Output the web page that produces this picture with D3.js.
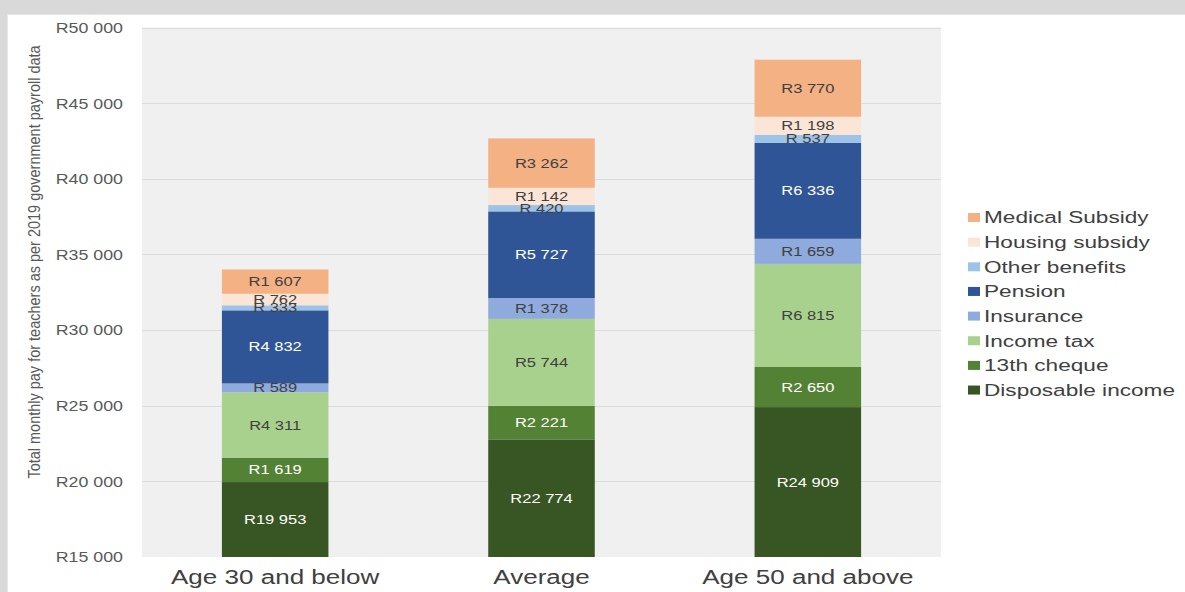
<!DOCTYPE html>
<html>
<head>
<meta charset="utf-8">
<script src="https://cdn.jsdelivr.net/npm/d3@7"></script>
<style>
  html, body { margin: 0; padding: 0; background: #d9d9d9; }
  svg { display: block; font-family: "Liberation Sans", Arial, Helvetica, sans-serif; }
</style>
</head>
<body>
<svg id="chart" width="1185" height="592"></svg>
<script>
// ---- Data ----
const categories = ["Age 30 and below", "Average", "Age 50 and above"];
const seriesNames = ["Disposable income", "13th cheque", "Income tax", "Insurance", "Pension", "Other benefits", "Housing subsidy", "Medical Subsidy"];
const disposableIncome = [19953, 22774, 24909];
const thirteenthCheque = [1619, 2221, 2650];
const incomeTax = [4311, 5744, 6815];
const insurance = [589, 1378, 1659];
const pension = [4832, 5727, 6336];
const otherBenefits = [333, 420, 537];
const housingSubsidy = [762, 1142, 1198];
const medicalSubsidy = [1607, 3262, 3770];
const yTickValues = [15000, 20000, 25000, 30000, 35000, 40000, 45000, 50000];
const yTitle = "Total monthly pay for teachers as per 2019 government payroll data";

const seriesValues = [disposableIncome, thirteenthCheque, incomeTax, insurance, pension, otherBenefits, housingSubsidy, medicalSubsidy];
const colors = ["#375623", "#548235", "#a9d18e", "#8faadc", "#2f5597", "#9dc3e6", "#fbe5d6", "#f4b183"];
const labelColors = ["#ffffff", "#ffffff", "#404040", "#404040", "#ffffff", "#404040", "#404040", "#404040"];

const rows = categories.map((c, i) => {
  const r = { category: c };
  seriesNames.forEach((s, j) => r[s] = seriesValues[j][i]);
  return r;
});

const svg = d3.select("#chart");
// white card
svg.append("rect").attr("x", 7).attr("y", 14).attr("width", 1185).attr("height", 600).attr("fill", "#ffffff");
svg.append("line").attr("x1", 7).attr("x2", 1185).attr("y1", 14.5).attr("y2", 14.5).attr("stroke", "#e6e6e6");
svg.append("line").attr("x1", 7.5).attr("x2", 7.5).attr("y1", 14).attr("y2", 592).attr("stroke", "#e6e6e6");

const plot = { left: 142, right: 941, top: 27.5, bottom: 557 };
const SX = 1.27; // horizontal text stretch seen in reference

const x = d3.scaleBand().domain(categories).range([plot.left, plot.right]).paddingInner(0.6).paddingOuter(0.3);
const y = d3.scaleLinear().domain([15000, 50000]).range([plot.bottom, plot.top]);

svg.append("rect").attr("x", plot.left).attr("y", plot.top).attr("width", plot.right - plot.left)
  .attr("height", plot.bottom - plot.top).attr("fill", "#f0f0f0");

// gridlines
svg.append("g").selectAll("line").data(yTickValues.filter(d => d > 15000)).join("line")
  .attr("x1", plot.left).attr("x2", plot.right)
  .attr("y1", d => Math.round(y(d)) + 0.5).attr("y2", d => Math.round(y(d)) + 0.5)
  .attr("stroke", "#dcdcdc").attr("stroke-width", 1);

// y axis
const fmt = v => "R" + d3.format(",")(v).replace(/,/g, " ");
const yAxis = svg.append("g").attr("transform", `translate(${plot.left},0)`)
  .call(d3.axisLeft(y).tickValues(yTickValues).tickFormat(fmt).tickSize(0));
yAxis.select(".domain").remove();
yAxis.selectAll("text")
  .attr("x", -19 / SX).attr("dy", "0.35em")
  .attr("transform", `scale(${SX},1)`)
  .attr("font-size", 14).attr("fill", "#595959")
  .attr("font-family", "'Liberation Sans', Arial, sans-serif");

// y title
svg.append("text")
  .attr("transform", `translate(40,262) scale(1.2,1) rotate(-90)`)
  .attr("text-anchor", "middle")
  .attr("font-size", 14.5).attr("fill", "#595959")
  .text(yTitle);

// bars
svg.append("defs").append("clipPath").attr("id", "plotclip")
  .append("rect").attr("x", plot.left).attr("y", plot.top).attr("width", plot.right - plot.left).attr("height", plot.bottom - plot.top);

const stack = d3.stack().keys(seriesNames);
const stacked = stack(rows);

const layers = svg.append("g").attr("clip-path", "url(#plotclip)")
  .selectAll("g").data(stacked).join("g").attr("fill", (d, i) => colors[i]);
layers.selectAll("rect").data(d => d).join("rect")
  .attr("x", d => x(d.data.category))
  .attr("width", x.bandwidth())
  .attr("y", d => y(d[1]))
  .attr("height", d => Math.max(0, y(Math.max(d[0], 15000)) - y(d[1])));

// segment labels
const segFmt = v => v >= 1000 ? fmt(v) : "R " + v;
const labelG = svg.append("g");
stacked.forEach((layer, i) => {
  layer.forEach(d => {
    const lo = Math.max(d[0], 15000);
    const cy = (y(lo) + y(d[1])) / 2;
    const cx = x(d.data.category) + x.bandwidth() / 2;
    labelG.append("text")
      .attr("transform", `translate(${cx},${cy}) scale(${SX},1)`)
      .attr("text-anchor", "middle").attr("dy", "0.35em")
      .attr("font-size", 13).attr("fill", labelColors[i])
      .text(segFmt(d[1] - d[0]));
  });
});

// x axis
const xAxis = svg.append("g").attr("transform", `translate(0,${plot.bottom})`)
  .call(d3.axisBottom(x).tickSize(0));
xAxis.select(".domain").remove();
xAxis.selectAll("text")
  .attr("y", 27).attr("dy", 0)
  .attr("transform", `scale(1.24,1)`)
  .attr("font-size", 21).attr("fill", "#404040")
  .attr("font-family", "'Liberation Sans', Arial, sans-serif");
xAxis.selectAll(".tick").each(function(d) {
  const cx = x(d) + x.bandwidth() / 2;
  d3.select(this).attr("transform", `translate(${cx},0)`);
});

// legend
const legendOrder = seriesNames.slice().reverse();
const lg = svg.append("g");
legendOrder.forEach((name, i) => {
  const idx = seriesNames.indexOf(name);
  const cy = 217.5 + i * 24.65;
  lg.append("rect").attr("x", 968).attr("y", cy - 4.5).attr("width", 12).attr("height", 9).attr("fill", colors[idx]);
  lg.append("text")
    .attr("transform", `translate(984,${cy}) scale(1.33,1)`)
    .attr("dy", "0.35em").attr("font-size", 17).attr("fill", "#404040")
    .text(name);
});
</script>
</body>
</html>
